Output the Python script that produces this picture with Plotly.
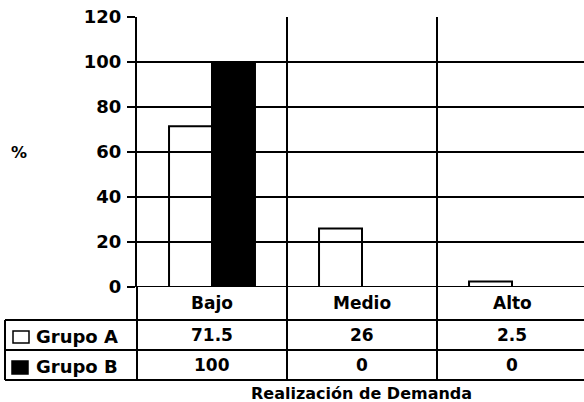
import plotly.graph_objects as go

# Data
categories = ["Bajo", "Medio", "Alto"]
grupo_a = [71.5, 26, 2.5]
grupo_b = [100, 0, 0]
value_labels_a = ["71.5", "26", "2.5"]
value_labels_b = ["100", "0", "0"]
y_ticks = [0, 20, 40, 60, 80, 100, 120]
series_names = ["Grupo A", "Grupo B"]
x_title = "Realización de Demanda"
y_title = "%"

W, H = 584, 402
ML, MR, MT, MB = 137, 0, 17, 115
PW, PH = W - ML - MR, H - MT - MB
FONT = "DejaVu Sans"


def px_x(x):
    return (x - ML) / PW


def px_y(y):
    return (H - MB - y) / PH


fig = go.Figure()
fig.add_trace(go.Bar(x=categories, y=grupo_a, name=series_names[0],
                     marker=dict(color="white", line=dict(color="black", width=2))))
fig.add_trace(go.Bar(x=categories, y=grupo_b, name=series_names[1],
                     marker=dict(color="black", line=dict(color="black", width=2))))

shapes = []
line = dict(color="black", width=2)
# horizontal grid lines (no line at the top tick)
for t in y_ticks[:-1]:
    shapes.append(dict(type="line", xref="paper", yref="y", x0=0, x1=1, y0=t, y1=t, line=line))
# category separators running through the table
for i in range(len(categories) - 1):
    shapes.append(dict(type="line", xref="x", yref="paper", x0=i + 0.5, x1=i + 0.5,
                       y0=1, y1=px_y(380), line=line))
# axis line continued down through the table
shapes.append(dict(type="line", xref="paper", yref="paper", x0=0, x1=0,
                   y0=0, y1=px_y(380), line=line))
# table rows
for yy in (320, 350, 380):
    shapes.append(dict(type="line", xref="paper", yref="paper", x0=px_x(5), x1=1,
                       y0=px_y(yy), y1=px_y(yy), line=line))
shapes.append(dict(type="line", xref="paper", yref="paper", x0=px_x(5), x1=px_x(5),
                   y0=px_y(320), y1=px_y(380), line=line))
# legend keys
shapes.append(dict(type="rect", xref="paper", yref="paper", x0=px_x(13), x1=px_x(29),
                   y0=px_y(343), y1=px_y(331), fillcolor="white",
                   line=dict(color="black", width=1.5)))
shapes.append(dict(type="rect", xref="paper", yref="paper", x0=px_x(12), x1=px_x(28),
                   y0=px_y(374), y1=px_y(361), fillcolor="black",
                   line=dict(color="black", width=1.5)))

tf = dict(family=FONT, size=17, color="black", weight="bold")
big = dict(family=FONT, size=18, color="black", weight="bold")
small = dict(family=FONT, size=16, color="black", weight="bold")
common = dict(showarrow=False, yanchor="middle", yref="paper")
ann = []
for i, c in enumerate(categories):
    ann.append(dict(x=c, y=px_y(303), xref="x", xanchor="center", text=c, font=tf, **common))
    ann.append(dict(x=c, y=px_y(335), xref="x", xanchor="center", text=value_labels_a[i],
                    font=tf, **common))
    ann.append(dict(x=c, y=px_y(365), xref="x", xanchor="center", text=value_labels_b[i],
                    font=tf, **common))
for name, yy in zip(series_names, (336, 366)):
    ann.append(dict(x=px_x(34), y=px_y(yy), xref="paper", xanchor="left", text=name,
                    font=big, **common))
ann.append(dict(x=px_x(361), y=px_y(393), xref="paper", xanchor="center", text=x_title,
                font=small, **common))
ann.append(dict(x=px_x(19), y=0.5, xref="paper", xanchor="center", text=y_title,
                font=small, **common))

fig.update_layout(
    width=W, height=H,
    margin=dict(l=ML, r=MR, t=MT, b=MB, pad=0),
    paper_bgcolor="white", plot_bgcolor="white",
    barmode="group", bargap=0.427, bargroupgap=0,
    showlegend=False,
    shapes=shapes, annotations=ann,
    xaxis=dict(range=[-0.5, -0.5 + PW / 150], showticklabels=False, showgrid=False,
               zeroline=False, showline=False, ticks=""),
    yaxis=dict(range=[0, 120], tickvals=y_ticks, showgrid=False, zeroline=False,
               showline=True, linecolor="black", linewidth=2,
               ticks="outside", ticklen=8, tickwidth=2, tickcolor="black",
               ticklabelstandoff=2, tickfont=big),
)

fig.write_html("out.html")
